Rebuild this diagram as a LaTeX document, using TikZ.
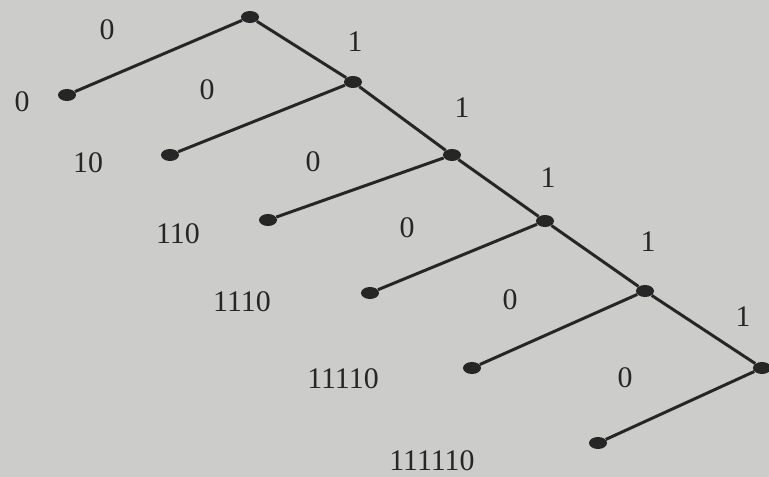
\documentclass[tikz,border=0pt]{standalone}
\usepackage{fontspec}
\setmainfont{Liberation Serif}
\usetikzlibrary{shapes.geometric}
\definecolor{paper}{RGB}{204,204,202}
\definecolor{ink}{RGB}{38,38,38}
\tikzset{
  dot/.style={ellipse, fill=ink, inner sep=0pt, minimum width=0.36cm, minimum height=0.24cm},
  lbl/.style={font=\fontsize{17}{20}\selectfont, text=ink, inner sep=0pt},
  edge/.style={draw=ink, line width=1.7pt}
}
\begin{document}
\begin{tikzpicture}
	  \fill[paper] (0,0) rectangle (15.38,-9.54);
	  \useasboundingbox (0,0) rectangle (15.38,-9.54);
	  
	  \node[dot] (r) at (5.00,-0.34) {};
	  \node[dot] (1) at (7.06,-1.64) {};
	  \node[dot] (11) at (9.04,-3.10) {};
	  \node[dot] (111) at (10.90,-4.42) {};
	  \node[dot] (1111) at (12.90,-5.82) {};
	  \node[dot] (11111) at (15.24,-7.36) {};
	  
	  \node[dot] (0) at (1.34,-1.90) {};
	  \node[dot] (10) at (3.40,-3.10) {};
	  \node[dot] (110) at (5.36,-4.40) {};
	  \node[dot] (1110) at (7.40,-5.86) {};
	  \node[dot] (11110) at (9.44,-7.36) {};
	  \node[dot] (111110) at (11.96,-8.86) {};
	  
	  \draw[edge] (r) -- (1);
	  \draw[edge] (1) -- (11);
	  \draw[edge] (11) -- (111);
	  \draw[edge] (111) -- (1111);
	  \draw[edge] (1111) -- (11111);
	  \draw[edge] (r) -- (0);
	  \draw[edge] (1) -- (10);
	  \draw[edge] (11) -- (110);
	  \draw[edge] (111) -- (1110);
	  \draw[edge] (1111) -- (11110);
	  \draw[edge] (11111) -- (111110);
	  
	  \node[lbl] (w0) at (0.44,-2.04) {0};
	  \node[lbl] (w10) at (1.76,-3.26) {10};
	  \node[lbl] (w110) at (3.56,-4.68) {110};
	  \node[lbl] (w1110) at (4.84,-6.04) {1110};
	  \node[lbl] (w11110) at (6.86,-7.58) {11110};
	  \node[lbl] (w111110) at (8.64,-9.22) {111110};
	  
	  \node[lbl] (e0) at (2.14,-0.60) {0};
	  \node[lbl] (e1) at (7.10,-0.84) {1};
	  \node[lbl] (e10) at (4.14,-1.80) {0};
	  \node[lbl] (e11) at (9.24,-2.16) {1};
	  \node[lbl] (e110) at (6.26,-3.24) {0};
	  \node[lbl] (e111) at (10.96,-3.56) {1};
	  \node[lbl] (e1110) at (8.14,-4.56) {0};
	  \node[lbl] (e1111) at (12.96,-4.84) {1};
	  \node[lbl] (e11110) at (10.20,-6.00) {0};
	  \node[lbl] (e11111) at (14.86,-6.34) {1};
	  \node[lbl] (e111110) at (12.50,-7.56) {0};
	\end{tikzpicture}
\end{document}
